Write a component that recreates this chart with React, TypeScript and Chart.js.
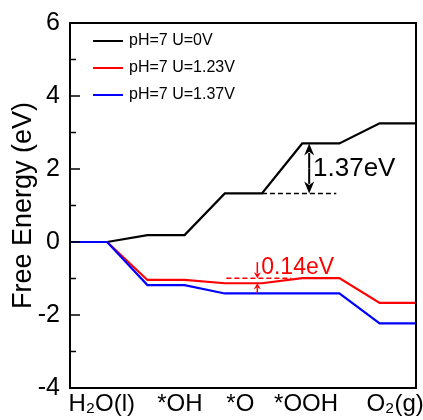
import React, { useEffect, useRef } from 'react';
import { Chart, registerables } from 'chart.js';

Chart.register(...registerables);

// ---- data ----
const categories = ['H\u2082O(l)', '*OH', '*O', '*OOH', 'O\u2082(g)'];
const seriesLabels = ['pH=7 U=0V', 'pH=7 U=1.23V', 'pH=7 U=1.37V'];
const energyU0 = [0, 0.19, 1.33, 2.7, 3.25];
const energyU123 = [0, -1.04, -1.13, -0.99, -1.67];
const energyU137 = [0, -1.18, -1.41, -1.41, -2.23];
const yTicks = [-4, -2, 0, 2, 4, 6];
const barrierLabel = '1.37eV';
const overpotentialLabel = '0.14eV';

// ---- layout / style ----
const FONT = '"Liberation Sans", Arial, Helvetica, sans-serif';
const LEVEL_W = 0.48;
const X_MAX = 4.47;
const labelShift = [0.17, 0.18, -0.04, -0.19, -0.04];
const colors = ['#000000', '#ff0000', '#0000ff'];

const levelPoints = (vals: number[]) =>
  vals.flatMap((v, i) => [
    { x: i, y: v },
    { x: i + LEVEL_W, y: v },
  ]);

function arrow(ctx: CanvasRenderingContext2D, x: number, yFrom: number, yTip: number, headLen: number, headHalf: number) {
  const dir = yTip > yFrom ? 1 : -1;
  ctx.beginPath();
  ctx.moveTo(x, yFrom);
  ctx.lineTo(x, yTip - dir * headLen * 0.8);
  ctx.stroke();
  ctx.beginPath();
  ctx.moveTo(x, yTip);
  ctx.lineTo(x - headHalf, yTip - dir * headLen);
  ctx.lineTo(x, yTip - dir * headLen * 0.7);
  ctx.lineTo(x + headHalf, yTip - dir * headLen);
  ctx.closePath();
  ctx.fill();
}

const decorPlugin = {
  id: 'decor',
  afterDatasetsDraw(chart: any) {
    const { ctx, chartArea } = chart;
    const { left, right, top, bottom } = chartArea;
    const xs = chart.scales.x;
    const ys = chart.scales.y;
    ctx.save();

    // frame
    ctx.strokeStyle = '#000';
    ctx.lineWidth = 2;
    ctx.setLineDash([]);
    ctx.strokeRect(left, top, right - left, bottom - top);

    // inward ticks on left axis
    ctx.lineWidth = 1.5;
    for (let v = ys.min; v <= ys.max; v += 1) {
      const y = ys.getPixelForValue(v);
      const len = v % 2 === 0 ? 10 : 6;
      ctx.beginPath();
      ctx.moveTo(left, y);
      ctx.lineTo(left + len, y);
      ctx.stroke();
    }

    // legend
    ctx.font = `16px ${FONT}`;
    ctx.textBaseline = 'middle';
    ctx.textAlign = 'left';
    chart.data.datasets
      .slice()
      .sort((a: any, b: any) => a.legendIndex - b.legendIndex)
      .forEach((ds: any, i: number) => {
        const y = top + 18 + 27 * i;
        ctx.strokeStyle = ds.borderColor;
        ctx.lineWidth = 2;
        ctx.beginPath();
        ctx.moveTo(left + 23, y);
        ctx.lineTo(left + 53, y);
        ctx.stroke();
        ctx.fillStyle = '#000';
        ctx.fillText(ds.label, left + 59, y);
      });

    // black annotation: 1.37 eV
    const yLow = ys.getPixelForValue(energyU0[2]);
    const yHigh = ys.getPixelForValue(energyU0[3]);
    ctx.strokeStyle = '#000';
    ctx.fillStyle = '#000';
    ctx.lineWidth = 1.5;
    ctx.setLineDash([5, 3]);
    ctx.beginPath();
    ctx.moveTo(xs.getPixelForValue(2 + LEVEL_W), yLow);
    ctx.lineTo(xs.getPixelForValue(3.44), yLow);
    ctx.stroke();
    ctx.setLineDash([]);
    ctx.lineWidth = 2;
    const xa = xs.getPixelForValue(3.09);
    const yMid = (yLow + yHigh) / 2;
    arrow(ctx, xa, yMid, yHigh, 12, 5);
    arrow(ctx, xa, yMid, yLow, 12, 5);
    ctx.font = `26px ${FONT}`;
    ctx.textBaseline = 'middle';
    ctx.fillText(barrierLabel, xs.getPixelForValue(3.14), ys.getPixelForValue((energyU0[2] + energyU0[3]) / 2));

    // red annotation: 0.14 eV
    const yDash = ys.getPixelForValue(energyU123[3]);
    const yO = ys.getPixelForValue(energyU123[2]);
    ctx.strokeStyle = '#ff0000';
    ctx.fillStyle = '#ff0000';
    ctx.lineWidth = 1.5;
    ctx.setLineDash([5, 3]);
    ctx.beginPath();
    ctx.moveTo(xs.getPixelForValue(2.02), yDash);
    ctx.lineTo(xs.getPixelForValue(2.86), yDash);
    ctx.stroke();
    ctx.setLineDash([]);
    const xr = xs.getPixelForValue(2.42);
    arrow(ctx, xr, yDash - 16, yDash, 6, 3.5);
    arrow(ctx, xr, yO + 10, yO, 6, 3.5);
    ctx.font = `23px ${FONT}`;
    ctx.textBaseline = 'alphabetic';
    ctx.fillText(overpotentialLabel, xs.getPixelForValue(2.47), yDash - 4);

    ctx.restore();
  },
};

export default function App() {
  const ref = useRef<HTMLCanvasElement>(null);
  useEffect(() => {
    document.body.style.margin = '0';
    const canvas = ref.current!;
    const series = [energyU0, energyU123, energyU137];
    const chart = new Chart(canvas, {
      type: 'line',
      data: {
        datasets: series.map((vals, i) => ({
          label: seriesLabels[i],
          legendIndex: i,
          data: levelPoints(vals),
          borderColor: colors[i],
          backgroundColor: colors[i],
          borderWidth: 2.2,
          pointRadius: 0,
          tension: 0,
          fill: false,
          order: 2 - i,
        })) as any,
      },
      options: {
        responsive: false,
        devicePixelRatio: 1,
        animation: false,
        parsing: true,
        layout: { padding: { left: 0, right: 7, top: 23, bottom: 0 } },
        plugins: {
          legend: { display: false },
          tooltip: { enabled: false },
        },
        scales: {
          x: {
            type: 'linear',
            min: 0,
            max: X_MAX,
            grid: { display: false, drawTicks: false },
            border: { display: false },
            afterBuildTicks: (s: any) => {
              s.ticks = categories.map((_, i) => ({ value: i + LEVEL_W / 2 + labelShift[i] }));
            },
            ticks: {
              autoSkip: false,
              maxRotation: 0,
              minRotation: 0,
              padding: 2,
              color: '#000',
              font: { family: FONT, size: 24 },
              callback: (_v: any, i: number) => categories[i],
            },
            afterFit: (s: any) => {
              s.height = 32;
              s.paddingLeft = 0;
              s.paddingRight = 0;
            },
          },
          y: {
            type: 'linear',
            min: -4,
            max: 6,
            grid: { display: false, drawTicks: false },
            border: { display: false },
            afterBuildTicks: (s: any) => {
              s.ticks = yTicks.map((v) => ({ value: v }));
            },
            ticks: {
              padding: 10,
              color: '#000',
              font: { family: FONT, size: 25 },
              callback: (v: any) => String(v),
            },
            title: {
              display: true,
              text: 'Free Energy (eV)',
              color: '#000',
              font: { family: FONT, size: 27 },
              padding: { top: 7, bottom: 0 },
            },
            afterFit: (s: any) => {
              s.width = 70;
              s.paddingTop = 0;
              s.paddingBottom = 0;
            },
          },
        },
      } as any,
      plugins: [decorPlugin],
    });
    return () => chart.destroy();
  }, []);
  return (
    <div style={{ position: 'fixed', left: 0, top: 0, width: 423, height: 420, background: '#fff' }}>
      <canvas ref={ref} width={423} height={420} style={{ display: 'block', width: '423px', height: '420px' }} />
    </div>
  );
}
